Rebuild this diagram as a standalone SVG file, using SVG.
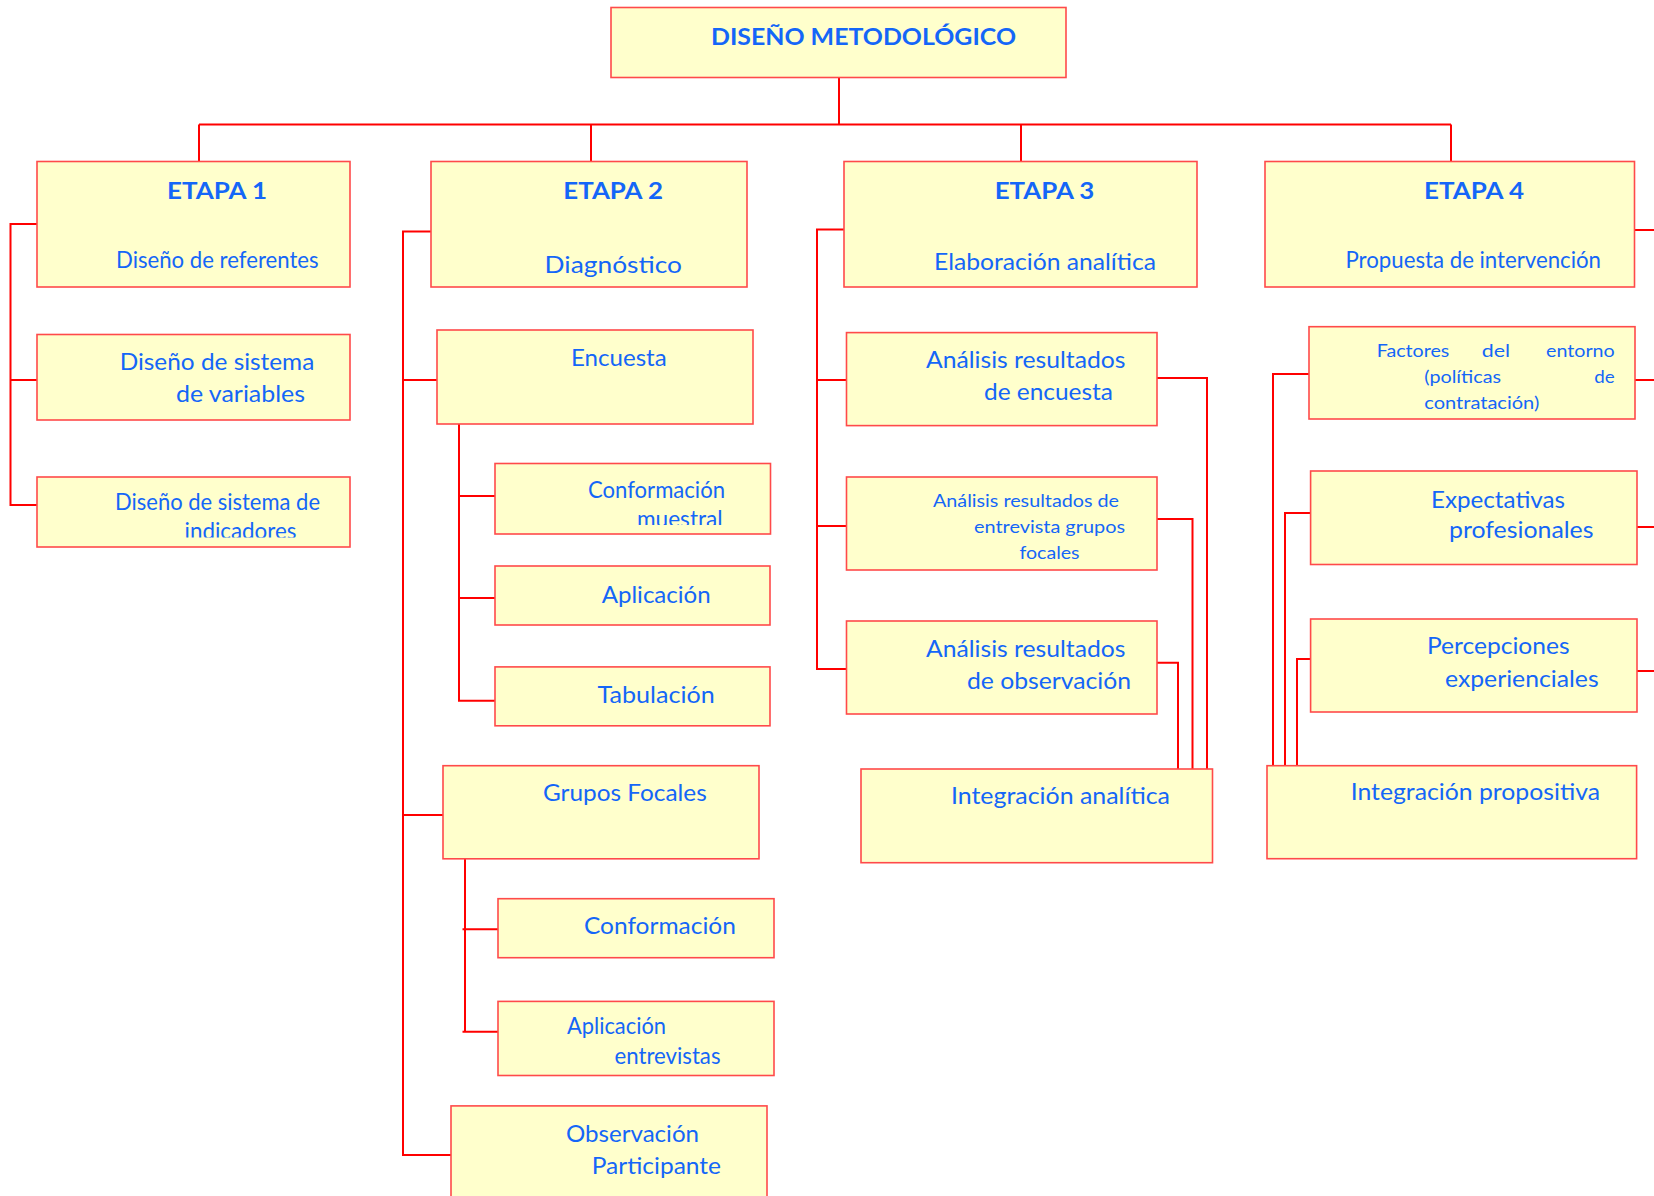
<svg xmlns="http://www.w3.org/2000/svg" width="1654" height="1196" viewBox="0 0 1654 1196">
<style>
.box{fill:#FFFFCC;stroke:#FF4A4A;stroke-width:1.6}
.conn path{fill:none;stroke:#FF0000;stroke-width:2}
text{font-family:Lato,"Open Sans","Liberation Sans",sans-serif;fill:#1466F8;font-size:23px}
.b{font-weight:bold}
.s{font-size:18px}
</style>
<defs>
<clipPath id="clipInd"><rect x="37" y="477" width="313" height="60.5"/></clipPath>
<clipPath id="clipMue"><rect x="495" y="463.5" width="275.5" height="61.5"/></clipPath>
</defs>
<rect width="1654" height="1196" fill="#FFFFFF"/>
<g class="conn" id="connectors">
<path d="M839 77.5V124.5M199 124.5H1451M199 124.5V161.5M591 124.5V161.5M1021 124.5V161.5M1451 124.5V161.5"/>
<path d="M37 224H10.5V505H37M10.5 380H37"/>
<path d="M431 231.5H403V1155H451M403 380H437M403 815H443"/>
<path d="M459 424V700.7H495M459 496H495M459 598H495"/>
<path d="M465 858.8V1031.8M462.5 929.2H498M462.5 1031.8H498"/>
<path d="M844 229.6H817V669H846.5M817 380H846.5M817 526H846.5"/>
<path d="M1157 378H1207V769M1157 519H1192.5V772M1157 662.7H1178V769"/>
<path d="M1309 374H1273V765.7M1310.6 513H1285V765.7M1310.6 659H1297V765.7"/>
<path d="M1634.5 230H1654M1635 380H1654M1637 527H1654M1637 671H1654"/>
</g>
<g id="n-titulo"><rect class="box" x="611" y="7.5" width="455" height="70"/><text class="b" x="711" y="44.5" font-size="25" textLength="305" lengthAdjust="spacingAndGlyphs">DISEÑO METODOLÓGICO</text></g>
<g id="n-etapa1"><rect class="box" x="37" y="161.5" width="313" height="125.5"/><text class="b" x="167" y="199" font-size="26.5" textLength="100" lengthAdjust="spacingAndGlyphs">ETAPA 1</text><text x="116" y="268" font-size="21.5" textLength="202.6" lengthAdjust="spacingAndGlyphs">Diseño de referentes</text></g>
<g id="n-etapa2"><rect class="box" x="431" y="161.5" width="316" height="125.5"/><text class="b" x="563.3" y="199" font-size="26.5" textLength="99.7" lengthAdjust="spacingAndGlyphs">ETAPA 2</text><text x="544.6" y="272.5" font-size="25" textLength="137.4" lengthAdjust="spacingAndGlyphs">Diagnóstico</text></g>
<g id="n-etapa3"><rect class="box" x="844" y="161.5" width="353" height="125.5"/><text class="b" x="994.7" y="199" font-size="26.5" textLength="99.7" lengthAdjust="spacingAndGlyphs">ETAPA 3</text><text x="934" y="270" font-size="22" textLength="222" lengthAdjust="spacingAndGlyphs">Elaboración analítica</text></g>
<g id="n-etapa4"><rect class="box" x="1265" y="161.5" width="369.5" height="125.5"/><text class="b" x="1424" y="199" font-size="26.5" textLength="100" lengthAdjust="spacingAndGlyphs">ETAPA 4</text><text x="1345.5" y="268" font-size="21.5" textLength="255.5" lengthAdjust="spacingAndGlyphs">Propuesta de intervención</text></g>
<g id="n-variables"><rect class="box" x="37" y="334.5" width="313" height="85.5"/><text x="119.7" y="370" textLength="194.6" lengthAdjust="spacingAndGlyphs">Diseño de sistema</text><text x="176" y="401.8" textLength="129" lengthAdjust="spacingAndGlyphs">de variables</text></g>
<g id="n-indicadores"><rect class="box" x="37" y="477" width="313" height="70"/><text x="115" y="510" font-size="21.5" textLength="205" lengthAdjust="spacingAndGlyphs">Diseño de sistema de</text><text clip-path="url(#clipInd)" x="184.6" y="539" font-size="21.5" textLength="111.8" lengthAdjust="spacingAndGlyphs">indicadores</text></g>
<g id="n-encuesta"><rect class="box" x="437" y="330" width="316" height="94"/><text x="571" y="365.5" textLength="95.7" lengthAdjust="spacingAndGlyphs">Encuesta</text></g>
<g id="n-conf-muestral"><rect class="box" x="495" y="463.5" width="275.5" height="70.5"/><text x="588" y="497.5" font-size="22" textLength="137" lengthAdjust="spacingAndGlyphs">Conformación</text><text clip-path="url(#clipMue)" x="637" y="527" font-size="22" textLength="85.6" lengthAdjust="spacingAndGlyphs">muestral</text></g>
<g id="n-aplicacion"><rect class="box" x="495" y="566" width="275" height="59"/><text x="601.7" y="602.7" textLength="109" lengthAdjust="spacingAndGlyphs">Aplicación</text></g>
<g id="n-tabulacion"><rect class="box" x="495" y="666.9" width="275" height="58.9"/><text x="597.6" y="702.6" textLength="117.1" lengthAdjust="spacingAndGlyphs">Tabulación</text></g>
<g id="n-grupos"><rect class="box" x="443" y="765.7" width="316" height="93.1"/><text x="543" y="800.7" textLength="163.8" lengthAdjust="spacingAndGlyphs">Grupos Focales</text></g>
<g id="n-conformacion"><rect class="box" x="498" y="898.7" width="276" height="59"/><text x="584" y="933.7" textLength="151.8" lengthAdjust="spacingAndGlyphs">Conformación</text></g>
<g id="n-aplic-entrevistas"><rect class="box" x="498" y="1001.4" width="276" height="74.1"/><text x="567" y="1034.4" font-size="22" textLength="99" lengthAdjust="spacingAndGlyphs">Aplicación</text><text x="614.5" y="1063.7" font-size="22" textLength="106" lengthAdjust="spacingAndGlyphs">entrevistas</text></g>
<g id="n-observacion"><rect class="box" x="451" y="1105.9" width="316" height="100"/><text x="566" y="1141.6" textLength="133" lengthAdjust="spacingAndGlyphs">Observación</text><text x="591.8" y="1173.9" textLength="129.2" lengthAdjust="spacingAndGlyphs">Participante</text></g>
<g id="n-an-encuesta"><rect class="box" x="846.5" y="332.6" width="310.5" height="93"/><text x="926" y="368" textLength="199.5" lengthAdjust="spacingAndGlyphs">Análisis resultados</text><text x="984" y="400" textLength="129" lengthAdjust="spacingAndGlyphs">de encuesta</text></g>
<g id="n-an-entrevista"><rect class="box" x="846.5" y="477" width="310.5" height="93"/><text class="s" x="933" y="507" textLength="186" lengthAdjust="spacingAndGlyphs">Análisis resultados de</text><text class="s" x="974" y="533" textLength="151" lengthAdjust="spacingAndGlyphs">entrevista grupos</text><text class="s" x="1019.5" y="558.7" textLength="60.1" lengthAdjust="spacingAndGlyphs">focales</text></g>
<g id="n-an-observacion"><rect class="box" x="846.5" y="621" width="310.5" height="93"/><text x="926" y="656.7" textLength="199.5" lengthAdjust="spacingAndGlyphs">Análisis resultados</text><text x="967" y="689.3" textLength="164" lengthAdjust="spacingAndGlyphs">de observación</text></g>
<g id="n-int-analitica"><rect class="box" x="861" y="769" width="351.5" height="93.7"/><text x="951" y="804" textLength="219" lengthAdjust="spacingAndGlyphs">Integración analítica</text></g>
<g id="n-factores"><rect class="box" x="1309" y="326.7" width="326" height="92.3"/><text class="s" x="1376.7" y="356.7" textLength="72.6" lengthAdjust="spacingAndGlyphs">Factores</text><text class="s" x="1481.7" y="356.7" textLength="28.3" lengthAdjust="spacingAndGlyphs">del</text><text class="s" x="1546" y="356.7" textLength="68.7" lengthAdjust="spacingAndGlyphs">entorno</text><text class="s" x="1424.3" y="382.7" textLength="76.7" lengthAdjust="spacingAndGlyphs">(políticas</text><text class="s" x="1594.3" y="382.7" textLength="20.4" lengthAdjust="spacingAndGlyphs">de</text><text class="s" x="1424.3" y="409" textLength="115" lengthAdjust="spacingAndGlyphs">contratación)</text></g>
<g id="n-expectativas"><rect class="box" x="1310.6" y="471" width="326.4" height="93.5"/><text x="1431" y="507.5" textLength="134" lengthAdjust="spacingAndGlyphs">Expectativas</text><text x="1449" y="537.7" textLength="144.5" lengthAdjust="spacingAndGlyphs">profesionales</text></g>
<g id="n-percepciones"><rect class="box" x="1310.6" y="619" width="326.4" height="93"/><text x="1427" y="654" textLength="142.6" lengthAdjust="spacingAndGlyphs">Percepciones</text><text x="1445" y="687.3" textLength="153.6" lengthAdjust="spacingAndGlyphs">experienciales</text></g>
<g id="n-int-propositiva"><rect class="box" x="1267" y="765.7" width="369.6" height="93"/><text x="1350.7" y="800" textLength="249.3" lengthAdjust="spacingAndGlyphs">Integración propositiva</text></g>
</svg>
